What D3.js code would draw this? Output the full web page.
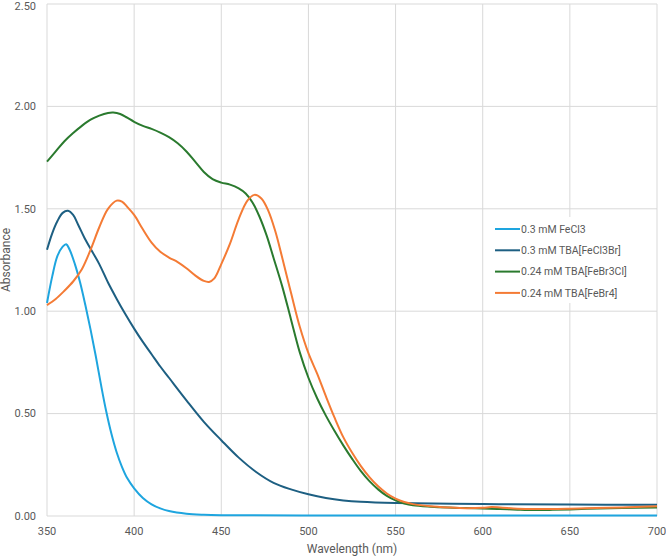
<!DOCTYPE html>
<html><head><meta charset="utf-8">
<script src="https://cdn.jsdelivr.net/npm/d3@7"></script>
<style>
html,body{margin:0;padding:0;background:#fff;}
svg{display:block;font-family:Roboto,"Noto Sans",sans-serif;}
</style></head>
<body><svg id="c" width="666" height="556"></svg>
<script>
const xTicks = [350,400,450,500,550,600,650,700];
const yTicks = [0,0.5,1,1.5,2,2.5];
const seriesNames = ["0.3 mM FeCl3","0.3 mM TBA[FeCl3Br]","0.24 mM TBA[FeBr3Cl]","0.24 mM TBA[FeBr4]"];
const seriesColors = ["#1ea5df","#1d5f82","#2a7a2e","#f47b35"];

const wlFeCl3 = [350,353,356,359,361,363,366,369,372,375,378,381,384,387,390,393,396,400,405,410,415,420,430,440,450,500,600,700];
const absFeCl3 = [1.04,1.17,1.27,1.315,1.327,1.30,1.23,1.14,1.03,0.91,0.78,0.64,0.51,0.40,0.31,0.24,0.185,0.135,0.088,0.057,0.037,0.024,0.011,0.006,0.004,0.002,0.002,0.002];

const wlFeCl3Br = [350,353,356,359,362,365,368,372,376,380,385,390,395,400,405,410,415,420,430,440,450,460,470,480,490,500,510,520,530,550,600,650,700];
const absFeCl3Br = [1.30,1.38,1.44,1.48,1.49,1.47,1.42,1.35,1.29,1.23,1.14,1.06,0.985,0.915,0.85,0.79,0.73,0.675,0.565,0.46,0.37,0.285,0.215,0.162,0.13,0.106,0.088,0.076,0.069,0.063,0.058,0.056,0.055];

const wlFeBr3Cl = [350,355,360,365,370,375,380,385,388,392,396,400,405,410,415,420,425,430,435,440,445,450,455,460,464,468,472,476,480,485,490,495,500,505,510,515,520,525,530,535,540,545,550,555,560,570,580,590,600,610,620,630,640,650,660,680,700];
const absFeBr3Cl = [1.73,1.78,1.83,1.87,1.905,1.935,1.955,1.968,1.97,1.963,1.945,1.925,1.905,1.89,1.872,1.85,1.82,1.78,1.73,1.68,1.645,1.628,1.618,1.60,1.575,1.53,1.46,1.37,1.26,1.12,0.96,0.80,0.675,0.575,0.49,0.415,0.345,0.28,0.22,0.17,0.13,0.098,0.076,0.061,0.052,0.045,0.041,0.039,0.037,0.034,0.031,0.029,0.030,0.032,0.035,0.039,0.042];

const wlFeBr4 = [350,355,360,365,370,375,380,385,390,393,396,400,405,410,415,420,425,430,435,440,443,446,450,455,460,465,469,473,477,481,485,490,495,500,505,510,515,520,525,530,535,540,545,550,555,560,570,580,590,600,605,610,620,630,650,680,700];
const absFeBr4 = [1.03,1.06,1.10,1.145,1.205,1.30,1.41,1.50,1.54,1.535,1.51,1.47,1.40,1.335,1.29,1.262,1.24,1.21,1.175,1.148,1.143,1.16,1.23,1.33,1.45,1.54,1.568,1.55,1.49,1.39,1.26,1.09,0.925,0.795,0.695,0.585,0.48,0.385,0.31,0.245,0.19,0.145,0.11,0.085,0.068,0.058,0.048,0.042,0.038,0.040,0.044,0.042,0.036,0.034,0.036,0.042,0.048];

const svg = d3.select("#c");
const m = {l:47, r:9, t:4, b:40};
const W = 666, H = 556;
const x = d3.scaleLinear().domain([350,700]).range([m.l, W-m.r]);
const y = d3.scaleLinear().domain([0,2.5]).range([H-m.b, m.t]);
const grid = "#d9d9d9", txt = "#595959";

svg.append("g").selectAll("line").data(xTicks).join("line")
  .attr("x1",d=>x(d)).attr("x2",d=>x(d)).attr("y1",y(0)).attr("y2",y(2.5))
  .attr("stroke",grid).attr("stroke-width",1);
svg.append("g").selectAll("line").data(yTicks).join("line")
  .attr("x1",x(350)).attr("x2",x(700)).attr("y1",d=>y(d)).attr("y2",d=>y(d))
  .attr("stroke",grid).attr("stroke-width",1);

svg.append("g").selectAll("text").data(yTicks).join("text")
  .attr("x",36).attr("y",d=>Math.max(y(d),6)).attr("dy","0.35em").attr("text-anchor","end")
  .attr("font-size",11).attr("fill",txt).text(d=>d3.format(".2f")(d));
svg.append("g").selectAll("text").data(xTicks).join("text")
  .attr("x",d=>x(d)).attr("y",531).attr("dy","0.35em").attr("text-anchor","middle")
  .attr("font-size",11).attr("fill",txt).text(d=>d);

svg.append("text").attr("x",(x(350)+x(700))/2).attr("y",549).attr("dy","0.35em")
  .attr("text-anchor","middle").attr("font-size",12).attr("fill",txt).text("Wavelength (nm)");
svg.append("text").attr("transform",`translate(6,${(y(0)+y(2.5))/2}) rotate(-90)`)
  .attr("dy","0.35em").attr("text-anchor","middle").attr("font-size",12).attr("fill",txt).text("Absorbance");

const series = [
  [wlFeCl3, absFeCl3],
  [wlFeCl3Br, absFeCl3Br],
  [wlFeBr3Cl, absFeBr3Cl],
  [wlFeBr4, absFeBr4]
];
const line = d3.line().x(d=>x(d[0])).y(d=>y(d[1])).curve(d3.curveCatmullRom.alpha(0.5));
series.forEach((s,i)=>{
  const pts = s[0].map((w,j)=>[w,s[1][j]]);
  svg.append("path").datum(pts).attr("d",line).attr("fill","none")
    .attr("stroke",seriesColors[i]).attr("stroke-width",2).attr("stroke-linejoin","round");
});

const lg = svg.append("g");
lg.append("rect").attr("x",488).attr("y",217).attr("width",160).attr("height",86).attr("fill","#fff");
seriesNames.forEach((n,i)=>{
  const yy = 229 + i*21.3;
  lg.append("line").attr("x1",495).attr("x2",520).attr("y1",yy).attr("y2",yy)
    .attr("stroke",seriesColors[i]).attr("stroke-width",2);
  lg.append("text").attr("x",521).attr("y",yy).attr("dy","0.35em").attr("font-size",10.5)
    .attr("fill",txt).text(n);
});
</script></body></html>
